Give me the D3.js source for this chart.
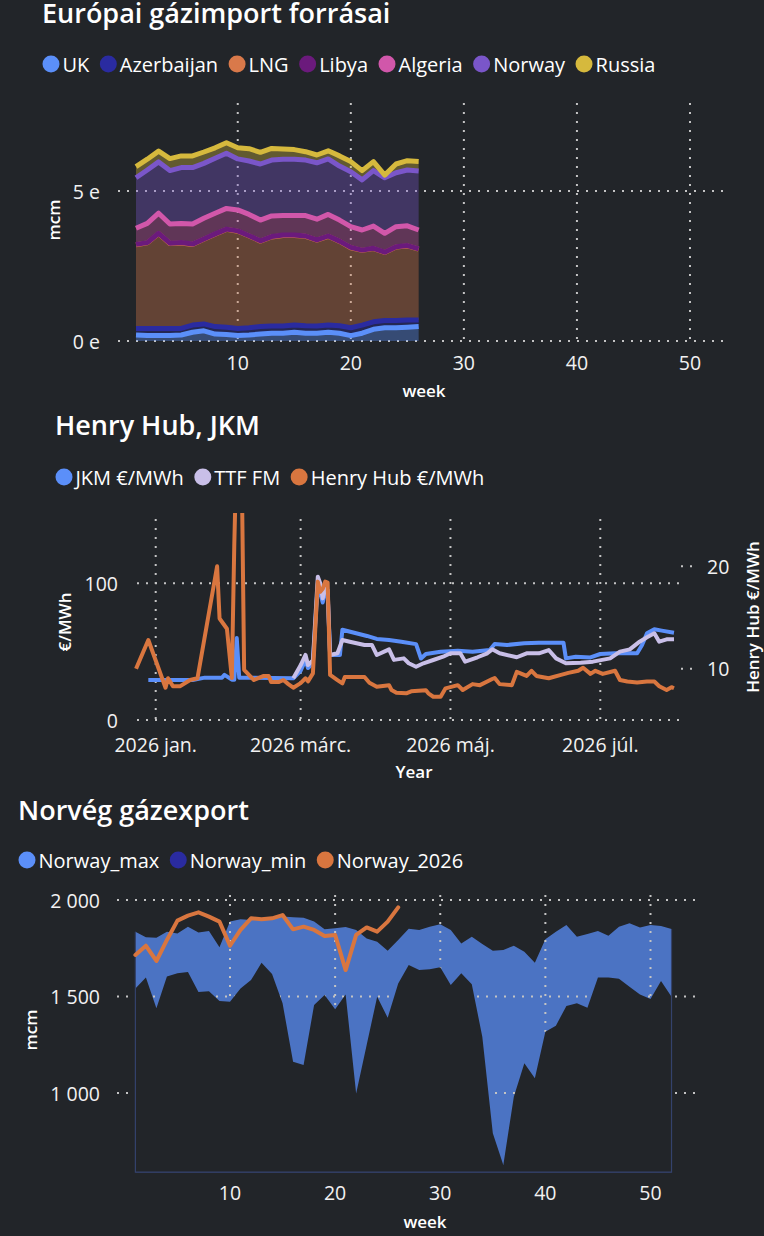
<!DOCTYPE html>
<html><head><meta charset="utf-8">
<script src="https://cdn.jsdelivr.net/npm/d3@7"></script>
<style>
html,body{margin:0;padding:0;background:#222529;}
svg{display:block;}
text{font-family:"Open Sans","Noto Sans",sans-serif;fill:#ffffff;}
.title{font-family:"Open Sans",sans-serif;font-weight:600;font-size:27px;}
.leg{font-size:20px;}
.tick{font-size:19.5px;fill:#f2f2f2;}
.atitle{font-size:17px;font-weight:600;}
</style></head><body>
<svg id="c" width="764" height="1236"></svg>
<script>
// ---------- DATA: chart 1 (European gas import sources, mcm / week) ----------
const importWeeks = d3.range(1, 27);
const importSeries = ["UK","Azerbaijan","LNG","Libya","Algeria","Norway","Russia"];
const importColors = ["#5b8ff9","#2a2ba0","#d9794a","#6b1a7c","#d157aa","#7a56c9","#d6b93d"];
const ukValues      = [200,180,180,180,200,290,340,230,220,180,200,230,260,260,290,260,260,290,260,180,260,390,440,440,460,480];
const azerValues    = [220,240,240,240,220,240,230,250,240,240,240,250,240,240,240,250,240,240,250,260,270,250,240,240,240,220];
const lngValues     = [2790,2850,3160,2830,2850,2690,2820,3080,3260,3240,3060,2850,2970,3020,2990,2980,2860,2960,2810,2670,2490,2440,2270,2450,2470,2360];
const libyaValues   = [10,10,10,10,10,10,10,10,10,10,10,10,10,10,10,10,10,10,10,10,10,10,10,10,10,10];
const algeriaValues = [540,640,670,640,640,670,690,690,690,700,710,690,690,650,650,680,690,720,700,690,670,740,630,670,660,630];
const norwayValues  = [1680,1780,1710,1780,1860,1880,1830,1830,1840,1700,1780,1870,1860,1880,1880,1850,1880,1850,1800,1830,1670,1850,1850,1800,1860,1970];
const russiaValues  = [370,360,360,400,390,390,380,350,350,370,410,390,390,340,320,280,260,270,340,340,310,300,90,290,310,310];
const importYTicks = [0, 5000];
const importXTicks = [10, 20, 30, 40, 50];

// ---------- DATA: chart 2 (Henry Hub, JKM, TTF) ----------
const priceSeries = ["JKM €/MWh","TTF FM","Henry Hub €/MWh"];
const priceColors = ["#5b8ff9","#c9bfe8","#d9763f"];
const jkmDates = ["2025-12-29","2026-01-16","2026-01-21","2026-01-28","2026-01-29","2026-02-01","2026-02-02","2026-02-03","2026-02-04","2026-02-10","2026-02-26","2026-03-01","2026-03-03","2026-03-04","2026-03-06","2026-03-08","2026-03-10","2026-03-11","2026-03-12","2026-03-13","2026-03-17","2026-03-18","2026-03-28","2026-04-01","2026-04-06","2026-04-11","2026-04-17","2026-04-19","2026-04-21","2026-04-27","2026-05-04","2026-05-10","2026-05-17","2026-05-19","2026-05-24","2026-05-31","2026-06-06","2026-06-16","2026-06-17","2026-06-21","2026-06-27","2026-07-01","2026-07-07","2026-07-16","2026-07-18","2026-07-20","2026-07-23","2026-07-26","2026-07-31"];
const jkmValues = [29.3,29.3,31,31,33,29.5,29.5,60,31,31,30.5,36,44,38,42,100,86,95,92,47.5,47.5,66,61.5,59.3,58.5,57.3,55.5,45,48.3,50,50.7,50,51.2,55.6,54.9,56.1,56.6,56.6,45.1,46.3,45.8,48.3,48.8,48.8,54.9,63.4,66.4,65.4,63.9];
const ttfDates = ["2026-02-26","2026-03-01","2026-03-03","2026-03-04","2026-03-06","2026-03-08","2026-03-09","2026-03-10","2026-03-11","2026-03-12","2026-03-13","2026-03-16","2026-03-18","2026-03-21","2026-03-27","2026-03-30","2026-04-01","2026-04-06","2026-04-08","2026-04-12","2026-04-14","2026-04-17","2026-04-20","2026-04-24","2026-04-28","2026-05-01","2026-05-05","2026-05-07","2026-05-12","2026-05-16","2026-05-18","2026-05-21","2026-05-28","2026-06-01","2026-06-06","2026-06-10","2026-06-13","2026-06-17","2026-06-23","2026-06-28","2026-07-05","2026-07-09","2026-07-13","2026-07-17","2026-07-20","2026-07-23","2026-07-25","2026-07-28","2026-07-31"];
const ttfValues = [30.5,40,47.6,40.2,43.7,104.9,100,89,97,95,47.6,48.8,58.5,57.3,54.9,54.9,47.6,51.7,44,45.1,41.5,39,41.5,43.9,46.3,48.8,48.8,42.7,45.9,48.8,51.7,48.8,45.9,48.8,48.8,51.2,45.1,41.5,41.9,42.7,45.1,50,51.7,57.3,60.5,63.4,57.3,59,59];
const hhDates = ["2025-12-24","2025-12-29","2026-01-05","2026-01-06","2026-01-08","2026-01-11","2026-01-15","2026-01-18","2026-01-26","2026-01-27","2026-01-30","2026-01-31","2026-02-01","2026-02-02","2026-02-03","2026-02-04","2026-02-05","2026-02-06","2026-02-10","2026-02-14","2026-02-16","2026-02-17","2026-02-20","2026-02-22","2026-02-24","2026-02-26","2026-03-01","2026-03-03","2026-03-04","2026-03-06","2026-03-08","2026-03-09","2026-03-10","2026-03-11","2026-03-12","2026-03-13","2026-03-16","2026-03-18","2026-03-19","2026-03-27","2026-03-29","2026-04-01","2026-04-06","2026-04-07","2026-04-09","2026-04-13","2026-04-15","2026-04-21","2026-04-22","2026-04-24","2026-04-27","2026-04-29","2026-05-04","2026-05-06","2026-05-10","2026-05-13","2026-05-18","2026-05-19","2026-05-21","2026-05-26","2026-05-28","2026-06-01","2026-06-03","2026-06-05","2026-06-10","2026-06-15","2026-06-18","2026-06-22","2026-06-24","2026-06-27","2026-06-29","2026-07-02","2026-07-07","2026-07-09","2026-07-12","2026-07-16","2026-07-20","2026-07-23","2026-07-25","2026-07-28","2026-07-30","2026-07-31"];
const hhValues = [10.0,12.8,8.15,9.07,8.3,8.3,8.9,9.07,20.0,14.9,13.9,11.5,9.1,22.2,32,32,30,9.9,8.9,9.3,9.3,8.7,8.7,8.9,8.5,8.15,8.6,9.07,8.77,9.55,18.5,17.5,17.8,18.5,18.4,9.4,8.9,8.58,9.2,9.2,8.64,8.25,8.4,7.93,7.66,7.6,7.8,7.9,7.6,7.27,7.27,8.09,8.4,7.93,8.5,8.4,9.0,9.1,8.5,8.4,9.7,9.3,9.8,9.3,9.07,9.4,9.6,9.8,10.1,9.5,9.8,9.5,9.8,8.9,8.75,8.65,8.75,8.75,8.3,7.93,8.2,8.1];
const priceLeftTicks = [0, 100];
const priceRightTicks = [10, 20];
const priceXTicks = ["2026-01-01","2026-03-01","2026-05-01","2026-07-01"];
const huMonths = ["jan.","febr.","márc.","ápr.","máj.","jún.","júl.","aug.","szept.","okt.","nov.","dec."];

// ---------- DATA: chart 3 (Norwegian gas export, mcm / week) ----------
const norWeeks = d3.range(1, 53);
const norSeries = ["Norway_max","Norway_min","Norway_2026"];
const norColors = ["#5b8ff9","#2a2ba0","#d9763f"];
const norMax = [1836,1807,1805,1836,1827,1862,1831,1839,1755,1888,1900,1896,1905,1908,1914,1910,1908,1888,1848,1853,1860,1845,1801,1784,1737,1793,1851,1845,1862,1874,1845,1775,1810,1772,1737,1741,1763,1732,1675,1796,1836,1870,1810,1824,1839,1815,1862,1879,1857,1870,1865,1850];
const norMin = [1542,1599,1439,1603,1620,1627,1523,1527,1477,1473,1542,1585,1675,1617,1465,1162,1145,1456,1508,1434,1511,998,1249,1499,1390,1568,1663,1637,1641,1651,1560,1620,1563,1292,791,627,981,1154,1076,1318,1349,1451,1465,1442,1598,1598,1592,1551,1511,1487,1580,1499];
const nor2026 = [1715,1763,1684,1793,1893,1919,1936,1914,1888,1763,1845,1905,1900,1905,1922,1848,1862,1845,1813,1819,1637,1819,1858,1836,1888,1962];
const norYTicks = [1000, 1500, 2000];
const norXTicks = [10, 20, 30, 40, 50];

// ---------- helpers ----------
const BG = "#222529", GRID = "#c4c4c4";
const svg = d3.select("#c");
function dotted(g, x1, y1, x2, y2) {
  g.append("line").attr("x1", x1).attr("y1", y1).attr("x2", x2).attr("y2", y2)
    .attr("stroke", GRID).attr("stroke-width", 2).attr("stroke-dasharray", "2 7");
}
function legend(cx0, cy, names, colors) {
  const g = svg.append("g");
  let x = cx0; const r = 8.5;
  names.forEach((n, i) => {
    g.append("circle").attr("cx", x + r).attr("cy", cy).attr("r", r).attr("fill", colors[i]);
    const t = g.append("text").attr("class", "leg").attr("x", x + 2 * r + 3).attr("y", cy)
      .attr("dominant-baseline", "central").text(n);
    x += 2 * r + 3 + t.node().getComputedTextLength() + 10.5;
  });
}
function title(x, y, s) { svg.append("text").attr("class", "title").attr("x", x).attr("y", y).text(s); }
function rotLabel(x, y, s) {
  svg.append("text").attr("class", "atitle").attr("transform", `translate(${x},${y}) rotate(-90)`)
    .attr("text-anchor", "middle").attr("dominant-baseline", "central").text(s);
}
function label(x, y, s, anchor, cls) {
  svg.append("text").attr("class", cls || "tick").attr("x", x).attr("y", y)
    .attr("text-anchor", anchor || "middle").attr("dominant-baseline", "central").text(s);
}

// ================= CHART 1 =================
title(42, 23, "Európai gázimport forrásai");
legend(42.5, 64, importSeries, importColors);
{
  const x = d3.scaleLinear().domain([1, 50]).range([136, 690]);
  const y = d3.scaleLinear().domain([0, 5000]).range([341, 191]);
  const g = svg.append("g");
  const rows = importWeeks.map((w, i) => ({ week: w, UK: ukValues[i], Azerbaijan: azerValues[i], LNG: lngValues[i],
    Libya: libyaValues[i], Algeria: algeriaValues[i], Norway: norwayValues[i], Russia: russiaValues[i] }));
  const stack = d3.stack().keys(importSeries)(rows);
  importYTicks.forEach(t => dotted(g, 118, y(t), 725, y(t)));
  importXTicks.forEach(t => dotted(g, x(t), 103, x(t), 341));
  const area = d3.area().x(d => x(d.data.week)).y0(d => y(d[0])).y1(d => y(d[1]));
  const line = d3.line().x(d => x(d.data.week)).y(d => y(d[1]));
  stack.forEach((s, i) => g.append("path").attr("d", area(s)).attr("fill", importColors[i]).attr("fill-opacity", 0.36));
  stack.forEach((s, i) => g.append("path").attr("d", line(s)).attr("fill", "none")
    .attr("stroke", importColors[i]).attr("stroke-width", 5).attr("stroke-linejoin", "round"));
  importYTicks.forEach(t => label(100, y(t), (t / 1000) + " e", "end"));
  importXTicks.forEach(t => label(x(t), 362, t));
  label(424, 390, "week", "middle", "atitle");
  rotLabel(53, 220, "mcm");
}

// ================= CHART 2 =================
title(55, 435, "Henry Hub, JKM");
legend(55.5, 477, priceSeries, priceColors);
{
  const parse = d3.timeParse("%Y-%m-%d");
  const x = d3.scaleTime().domain([parse("2026-01-01"), parse("2026-07-01")]).range([155.7, 600.3]);
  const yL = d3.scaleLinear().domain([0, 150]).range([720, 515]);
  const yR = d3.scaleLinear().domain([5, 25]).range([720, 515]);
  const g = svg.append("g");
  priceLeftTicks.forEach(t => dotted(g, 137, yL(t), 683, yL(t)));
  priceRightTicks.forEach(t => dotted(g, 681, yR(t), 692, yR(t)));
  priceXTicks.forEach(t => dotted(g, x(parse(t)), 519, x(parse(t)), 720));
  svg.append("clipPath").attr("id", "clip2").append("rect").attr("x", 130).attr("y", 513).attr("width", 560).attr("height", 212);
  const lg = g.append("g").attr("clip-path", "url(#clip2)");
  const mk = (dates, vals) => dates.map((d, i) => ({ d: parse(d), v: vals[i] }));
  const lineL = d3.line().x(p => x(p.d)).y(p => yL(p.v));
  const lineR = d3.line().x(p => x(p.d)).y(p => yR(p.v));
  lg.append("path").attr("d", lineL(mk(jkmDates, jkmValues))).attr("fill", "none").attr("stroke", priceColors[0]).attr("stroke-width", 4).attr("stroke-linejoin", "round");
  lg.append("path").attr("d", lineL(mk(ttfDates, ttfValues))).attr("fill", "none").attr("stroke", priceColors[1]).attr("stroke-width", 4).attr("stroke-linejoin", "round");
  lg.append("path").attr("d", lineR(mk(hhDates, hhValues))).attr("fill", "none").attr("stroke", priceColors[2]).attr("stroke-width", 4).attr("stroke-linejoin", "round");
  priceLeftTicks.forEach(t => label(118, yL(t), t, "end"));
  priceRightTicks.forEach(t => label(707, yR(t), t, "start"));
  priceXTicks.forEach(t => { const d = parse(t); label(x(d), 744, d.getFullYear() + " " + huMonths[d.getMonth()]); });
  label(414, 771, "Year", "middle", "atitle");
  rotLabel(64, 622, "€/MWh");
  rotLabel(752, 617, "Henry Hub €/MWh");
}

// ================= CHART 3 =================
title(18, 820, "Norvég gázexport");
legend(18.5, 860, norSeries, norColors);
{
  const x = d3.scaleLinear().domain([10, 50]).range([230, 650.5]);
  const y = d3.scaleLinear().domain([1000, 2000]).range([1093, 900]);
  const base = 590;
  const fmt = d3.formatLocale({ decimal: ",", thousands: "\u00a0", grouping: [3], currency: ["", ""] }).format(",");
  const g = svg.append("g");
  const areaMax = d3.area().x((d, i) => x(norWeeks[i])).y0(y(base)).y1(d => y(d));
  g.append("path").attr("d", areaMax(norMax)).attr("fill", norColors[0]).attr("fill-opacity", 0.74);
  norYTicks.forEach(t => dotted(g, 117, y(t), 697, y(t)));
  norXTicks.forEach(t => dotted(g, x(t), 895, x(t), y(base)));
  g.append("path").attr("d", areaMax(norMin)).attr("fill", BG);
  const x1 = x(norWeeks[0]), x2 = x(norWeeks[norWeeks.length - 1]);
  g.append("path").attr("d", d3.line()([[x1, y(norMax[0])], [x1, y(base)], [x2, y(base)], [x2, y(norMax[norMax.length - 1])]]))
    .attr("fill", "none").attr("stroke", "#34426c").attr("stroke-width", 1.2);
  g.append("path").attr("d", d3.line().x((d, i) => x(norWeeks[i])).y(d => y(d))(nor2026))
    .attr("fill", "none").attr("stroke", norColors[2]).attr("stroke-width", 4).attr("stroke-linejoin", "round").attr("stroke-linecap", "round");
  norYTicks.forEach(t => label(100, y(t), fmt(t), "end"));
  norXTicks.forEach(t => label(x(t), 1192, t));
  label(425, 1221, "week", "middle", "atitle");
  rotLabel(30, 1030, "mcm");
}
</script>
</body></html>
